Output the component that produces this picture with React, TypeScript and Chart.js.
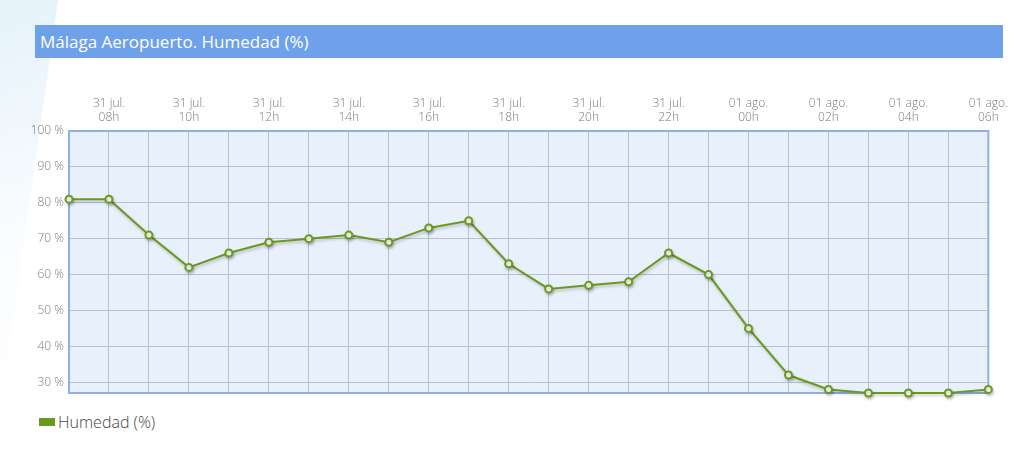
import { useEffect, useRef } from "react"
import { Chart, registerables } from "chart.js"

Chart.register(...registerables)

// hourly readings, 31 jul. 07h -> 01 ago. 06h
const days = [
  "31 jul.", "31 jul.", "31 jul.", "31 jul.", "31 jul.", "31 jul.", "31 jul.", "31 jul.",
  "31 jul.", "31 jul.", "31 jul.", "31 jul.", "31 jul.", "31 jul.", "31 jul.", "31 jul.",
  "31 jul.", "01 ago.", "01 ago.", "01 ago.", "01 ago.", "01 ago.", "01 ago.", "01 ago.",
]
const hours = [
  "07h", "08h", "09h", "10h", "11h", "12h", "13h", "14h", "15h", "16h", "17h", "18h",
  "19h", "20h", "21h", "22h", "23h", "00h", "01h", "02h", "03h", "04h", "05h", "06h",
]
const humedad = [81, 81, 71, 62, 66, 69, 70, 71, 69, 73, 75, 63, 56, 57, 58, 66, 60, 45, 32, 28, 27, 27, 27, 28]

const seriesName = "Humedad (%)"
const title = "Málaga Aeropuerto. Humedad (%)"
const green = "#6a9a1c"

const plotBackground = {
  id: "plotBackground",
  beforeDraw(chart: Chart) {
    const { ctx, chartArea: a } = chart
    ctx.save()
    ctx.fillStyle = "#e8f0fb"
    ctx.fillRect(a.left, a.top, a.right - a.left, a.bottom - a.top)
    ctx.restore()
  },
  beforeDatasetsDraw(chart: Chart) {
    const { ctx, chartArea: a } = chart
    ctx.save()
    ctx.strokeStyle = "#8fb0e2"
    ctx.lineWidth = 2
    ctx.strokeRect(a.left, a.top, a.right - a.left, a.bottom - a.top)
    ctx.restore()
  },
  // soft drop shadow under the series
  beforeDatasetDraw(chart: Chart) {
    const ctx = chart.ctx
    ctx.save()
    ctx.shadowColor = "rgba(0,0,0,0.22)"
    ctx.shadowOffsetX = 1
    ctx.shadowOffsetY = 2
    ctx.shadowBlur = 3
  },
  afterDatasetDraw(chart: Chart) {
    chart.ctx.restore()
  },
}

export default function App() {
  const chartRef = useRef<HTMLCanvasElement>(null)
  const chartInstance = useRef<Chart | null>(null)

  useEffect(() => {
    document.body.style.margin = "0"
    if (!chartRef.current) return
    const ctx = chartRef.current.getContext("2d")
    if (!ctx) return

    if (chartInstance.current) chartInstance.current.destroy()

    Chart.defaults.font.family = "'Open Sans', sans-serif"

    chartInstance.current = new Chart(ctx, {
      type: "line",
      data: {
        labels: hours.map((h, i) => [days[i], h]),
        datasets: [
          {
            label: seriesName,
            data: humedad,
            borderColor: green,
            borderWidth: 2,
            backgroundColor: "#ffffff",
            pointBackgroundColor: "#ffffff",
            pointBorderColor: green,
            pointBorderWidth: 2,
            pointRadius: 3.5,
            tension: 0,
            clip: false,
          },
        ],
      },
      options: {
        animation: false,
        responsive: false,
        maintainAspectRatio: false,
        layout: { padding: { top: 0, left: 0, right: 24, bottom: 17 } },
        plugins: {
          legend: { display: false },
          tooltip: { enabled: false },
        },
        scales: {
          x: {
            position: "top",
            offset: false,
            afterFit(scale) {
              scale.height = 71
            },
            border: { display: false },
            grid: { color: "#b9c0d2", drawTicks: false, lineWidth: 1 },
            ticks: {
              autoSkip: false,
              maxRotation: 0,
              padding: 6,
              color: "#7a7a7a",
              font: { size: 12, weight: 300 },
              callback: function (_v, i) {
                return i % 2 === 1 ? [days[i], hours[i]] : ""
              },
            },
          },
          y: {
            min: 27,
            max: 100,
            afterFit(scale) {
              scale.width = 69
            },
            border: { display: false },
            grid: { color: "#b9c0d2", drawTicks: false, lineWidth: 1 },
            ticks: {
              stepSize: 10,
              includeBounds: false,
              padding: 5,
              color: "#7a7a7a",
              font: { size: 12, weight: 300 },
              callback: (v) => `${v} %`,
            },
          },
        },
      },
      plugins: [plotBackground],
    })

    return () => {
      if (chartInstance.current) {
        chartInstance.current.destroy()
        chartInstance.current = null
      }
    }
  }, [])

  return (
    <div style={{ position: "relative", width: 1014, height: 470, background: "#fff", overflow: "hidden", fontFamily: "'Open Sans', sans-serif" }}>
      <div
        style={{
          position: "absolute",
          left: -60,
          top: -40,
          width: 90,
          height: 480,
          background: "linear-gradient(160deg, rgba(200,228,245,0.55), rgba(230,242,250,0.2) 60%, rgba(255,255,255,0))",
          transform: "skewX(-8deg)",
        }}
      />
      <div
        style={{
          position: "absolute",
          left: 35,
          top: 25,
          width: 968,
          height: 33,
          background: "#6fa1ea",
          color: "#fff",
          fontSize: 17,
          lineHeight: "33px",
          paddingLeft: 5,
          boxSizing: "border-box",
        }}
      >
        {title}
      </div>
      <canvas ref={chartRef} width={1014} height={350} style={{ position: "absolute", left: 0, top: 60, width: 1014, height: 350 }} />
      <div style={{ position: "absolute", left: 39, top: 411, display: "flex", alignItems: "center", color: "#444", fontSize: 16, fontWeight: 300 }}>
        <span style={{ display: "inline-block", width: 16, height: 8, background: green, marginRight: 3 }} />
        {seriesName}
      </div>
    </div>
  )
}
